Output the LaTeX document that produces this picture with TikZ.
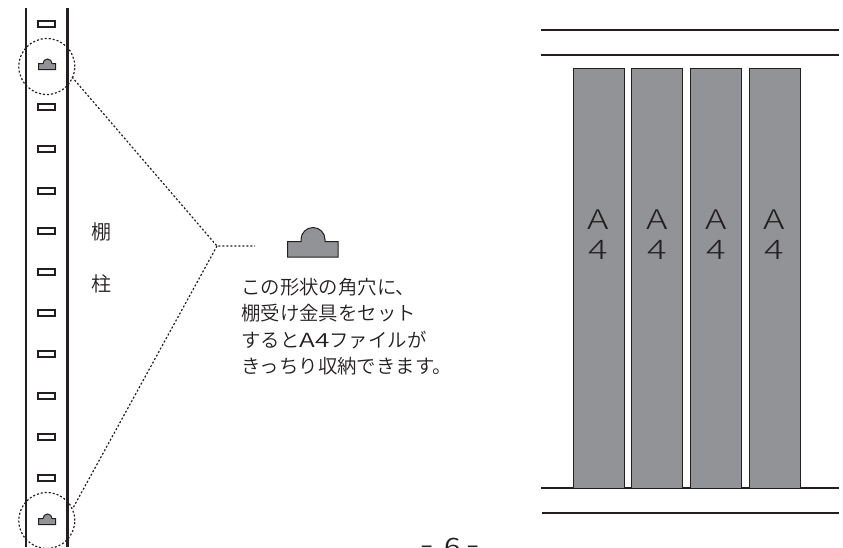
\documentclass[tikz,border=0pt]{standalone}
\usepackage{fontspec}
\setmainfont{Noto Sans CJK JP}[UprightFont={* DemiLight},BoldFont={*}]
\newfontfamily\thinjp{Noto Sans CJK JP Light}
\usepackage{graphicx}
\definecolor{fillg}{HTML}{929396}
\definecolor{ink}{HTML}{231F20}
\newcommand{\wideA}[1]{\scalebox{1.35}[1]{#1}}
\tikzset{
 rail/.style={draw=ink,line width=2.4pt},
 hline/.style={draw=ink,line width=1.2pt},
 dots/.style={draw=ink,line width=1.2pt,dash pattern=on 2pt off 2pt},
 hole/.style={draw=ink,fill=white,line width=1.1pt,minimum width=17pt,minimum height=6pt,inner sep=0,rectangle},
 filebox/.style={draw=ink,fill=fillg,line width=1pt,minimum width=51pt,minimum height=420pt,inner sep=0,rectangle},
 tag/.style={text=ink,font=\thinjp\fontsize{27}{30}\selectfont,align=center,inner sep=0},
 say/.style={text=ink,font=\fontsize{19.4}{26.3}\selectfont,align=left,anchor=north west,inner sep=0},
 post/.style={text=ink,font=\fontsize{20}{21}\selectfont,inner sep=0},
 lug/.style={draw=ink,fill=fillg,line width=1pt}
}
\begin{document}
\begin{tikzpicture}[x=1pt,y=-1pt]
\useasboundingbox (0,0) rectangle (843,547);
\begin{scope}
\clip (0,0) rectangle (843,547);
\coordinate (r1a) at (26,8); \coordinate (r1b) at (26,547);
\coordinate (r2a) at (67.5,8); \coordinate (r2b) at (67.5,547);
\draw[rail] (r1a) -- (r1b);
\draw[rail] (r2a) -- (r2b);
\foreach \y/\n in {24/a,107/b,149/c,191/d,231/e,272/f,313/g,354/h,396/i,437/j,478/k}{
  \node[hole] (h\n) at (46.5,\y) {};
}
% small lugs
\draw[lug] (38.5,69.5) -- (38.5,63.5) -- (43,63.5) arc (180:360:4.5) -- (55.5,63.5) -- (55.5,69.5) -- cycle;
\draw[lug] (38.5,524.5) -- (38.5,518.5) -- (43,518.5) arc (180:360:4.5) -- (55.5,518.5) -- (55.5,524.5) -- cycle;
\node[circle,dots,minimum size=56pt,inner sep=0] (ctop) at (46.8,66.5) {};
\node[circle,dots,minimum size=56pt,inner sep=0] (cbot) at (46.8,520.5) {};
\coordinate (apex) at (217,246);
\coordinate (free) at (255,246);
\draw[dots] (72,77) -- (apex) -- (free);
\draw[dots] (apex) -- (73,508);
% big lug
\draw[lug] (287.5,257) -- (287.5,241.7) -- (301,241.7) -- (301,239.5) arc (180:360:12) -- (325,241.7) -- (338,241.7) -- (338,257) -- cycle;
\node[say] (txt) at (241,278) {この形状の角穴に、\\棚受け金具をセット\\すると\wideA{A}\wideA{4}ファイルが\\きっちり収納できます。};
\node[post] (t1) at (101,232) {棚};
\node[post] (t2) at (101,284) {柱};
% shelves
\draw[hline] (541,30) -- (838.5,30);
\draw[hline] (541,55) -- (838.5,55);
\draw[hline] (541,488) -- (838.5,488);
\draw[hline] (542,513) -- (838.5,513);
\foreach \x/\n in {598.5/a,657/b,716/c,774.5/d}{
  \node[filebox] (f\n) at (\x,278) {};
  \node[tag] at (\x,235) {\wideA{A}\\\wideA{4}};
}
\node[text=ink,font=\fontsize{24}{26}\selectfont,inner sep=0,anchor=base] (pg) at (450.5,555.5) {\raisebox{2pt}{\scalebox{1.6}[1]{-}}\hspace{10.5pt}\scalebox{1.25}[1]{6}\hspace{6pt}\raisebox{2pt}{\scalebox{1.6}[1]{-}}};
\end{scope}
\end{tikzpicture}
\end{document}
